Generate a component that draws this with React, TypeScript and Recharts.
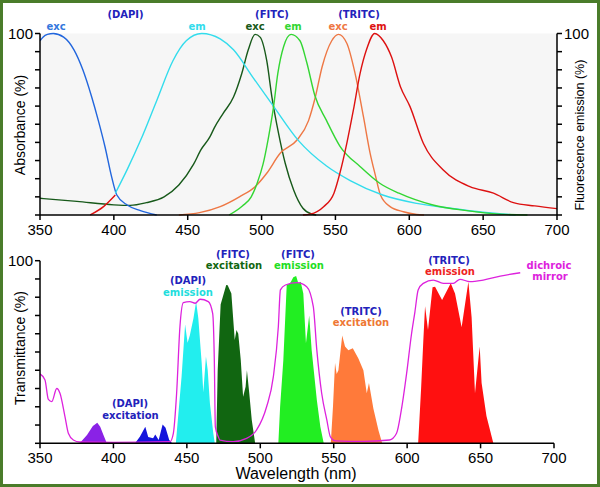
import React from 'react';
import { ComposedChart, Line, Area, XAxis, YAxis, CartesianGrid } from 'recharts';

type P = [number, number];

// ---------- top panel: absorbance / emission spectra ----------
const wavelengthTicks = [350, 400, 450, 500, 550, 600, 650, 700];
const percentTicks = [0, 10, 20, 30, 40, 50, 60, 70, 80, 90, 100];

const dapiExc: P[] = [[350, 96], [352, 98], [355, 99.5], [359, 100], [366, 98], [373, 91], [379, 80], [385, 65], [389.5, 52], [394, 37.6], [398.5, 21], [402, 11], [409, 5.5], [418, 2.4], [429, 0]];
const dapiEm: P[] = [[401, 12], [409, 25], [418, 41], [429, 63], [440, 85], [449, 96], [459.5, 100], [472, 97], [481, 91], [494, 76], [508, 60], [525, 41], [544, 27], [560, 19], [582, 11], [605, 6.4], [628, 3.7], [650, 1.5], [672, 0]];
const redFragment: P[] = [[384, 0], [393, 4.6], [401, 11]];
const fitcExc: P[] = [[350, 9.2], [375, 7.5], [400, 5.6], [411, 5.3], [422, 6.8], [434, 10], [444, 16.5], [454, 28], [459, 36], [465, 43], [468, 48], [474, 56], [481, 65], [486.6, 78], [491, 91], [495.6, 99.5], [499, 98], [503.5, 85], [507, 65], [511.5, 45], [516, 28.5], [521.7, 13.8], [528, 3.7], [534, 0.5], [537, 0]];
const fitcEm: P[] = [[478, 0], [487, 5], [493, 10], [497, 17.5], [501, 28], [504.5, 42], [508, 59], [511, 78], [515, 93], [520, 99.5], [526, 96], [530.6, 84], [536, 66], [544, 52], [553, 38], [567, 26.5], [580, 17.5], [593, 12], [616, 5.5], [639, 2.4], [661, 0.5], [680, 0]];
const tritcExc: P[] = [[444, 0], [458, 1.3], [472, 4.6], [485, 10], [495.6, 15.6], [503.5, 23], [512.6, 34], [524, 41.3], [531.8, 52], [536.4, 65], [541, 81.7], [547.5, 96], [552, 99.5], [557.7, 94.6], [563.3, 78], [569, 54], [573.5, 34], [577, 22], [580.5, 11], [587, 4.6], [596, 1.8], [605, 0.3], [610, 0]];
const tritcEm: P[] = [[528, 0], [533, 0.5], [542, 4.6], [549, 12], [553, 23], [557.7, 39.5], [562.2, 58], [566.7, 78], [571, 91], [576.6, 100], [582.4, 96], [588, 87], [594, 70.7], [600.5, 59.7], [609.5, 39.5], [623, 24.8], [641, 15.6], [657, 12], [670.5, 6.8], [685, 5], [700, 3.5]];

// ---------- bottom panel: filter transmittance ----------
const dichroicMirror: P[] = [[350, 38], [353.4, 34.7], [355.7, 24], [358, 22.8], [361.4, 30], [363.6, 27.4], [367, 14.6], [369.3, 5.5], [372.7, 1.8], [377, 0.7], [400, 0.5], [438.5, 0.9], [440.8, 5.5], [443, 27], [445.3, 64], [447.6, 77], [452, 77.6], [455.7, 76.7], [459, 78.9], [464.6, 77.6], [467.6, 71], [468.7, 45.6], [469.4, 9], [471.4, 3.6], [472.5, 1.8], [481.6, 0.9], [490.7, 2.7], [497.5, 7.3], [504.3, 20], [508.9, 36.5], [512.3, 64], [513.7, 84], [517.1, 86.7], [525, 88], [531.6, 85.8], [536.1, 74.8], [538.5, 51], [541.8, 27.4], [545.3, 12.8], [547.7, 3.6], [551, 1.3], [570, 1], [588, 1.8], [592.8, 5.5], [596, 18], [599.6, 38], [603, 60], [605.3, 72], [607.5, 84], [611, 87.6], [617.8, 89.4], [624.6, 87.6], [631.4, 87.6], [636, 89.8], [642.7, 88.5], [651.8, 89.4], [663.4, 91.6], [677, 93.4]];
const dapiExcUv: P[] = [[377, 0], [382, 4.5], [386, 9.5], [389, 11.3], [391, 9], [393, 5], [395.5, 0]];
const dapiExcBlue: P[] = [[414.7, 0], [418, 3.6], [421.7, 9], [423.7, 3.5], [427, 2.7], [428.5, 4.8], [430.8, 1.8], [433.5, 10.3], [435.5, 8.5], [438, 1.8], [440, 0]];
const dapiEmBand: P[] = [[442.5, 0], [446.4, 36.5], [448.8, 65], [450.5, 55], [452, 59], [454.5, 68.5], [456.3, 77.6], [457.8, 68.5], [460.1, 44], [461.2, 28], [463, 47.5], [464.2, 40], [465.7, 22], [468, 5.5], [469, 0]];
const fitcExcBand: P[] = [[470, 0], [471, 40], [473, 76], [476.8, 86.7], [477.8, 86.5], [480.3, 82], [482.6, 56.6], [483.8, 62], [485, 60], [486.7, 45.6], [488.3, 25.5], [490, 31], [490.9, 40], [492.5, 27.4], [494.2, 12.8], [496.5, 0]];
const fitcEmBand: P[] = [[512.3, 0], [513.5, 20], [515.7, 45.6], [518, 86.7], [520.3, 87.6], [522.5, 91], [524.4, 91.6], [525.9, 87.6], [527.5, 88.5], [529.3, 82], [531.1, 54.8], [533.3, 70], [535, 51], [538.5, 23.7], [540.9, 9], [543.2, 0]];
const tritcExcBand: P[] = [[548, 0], [549.5, 20], [550.9, 44], [552, 38], [553.2, 40], [555.8, 59], [557.7, 53], [560, 51], [563, 52], [566.8, 46.5], [570.2, 40], [572.5, 27.4], [574, 33], [577, 19], [580.5, 7], [583, 0]];
const tritcEmBand: P[] = [[607.5, 0], [609.5, 30], [611, 56], [612.2, 75], [614.2, 62], [617.3, 85.4], [619, 85.8], [623.8, 78.5], [629.7, 87.6], [632.6, 82], [637.1, 63.5], [641.7, 88.5], [643.9, 69], [646.2, 27.4], [649.4, 53], [650.7, 33], [654, 15], [658.7, 0]];

const toRows = (pts: P[]) => pts.map(([x, y]) => ({ x, y }));

const AXIS_FONT = '"Liberation Sans", Arial, Helvetica, sans-serif';
const LABEL_FONT = '"DejaVu Sans", Verdana, sans-serif';
const tickStyle = { fontSize: 15, fill: '#000', fontFamily: AXIS_FONT };
const axisLine = { stroke: '#000', strokeWidth: 1.5 };
const only100 = (v: number) => (v === 100 ? '100' : '');

const TopChart = () => (
  <ComposedChart width={600} height={245} margin={{ top: 33.5, right: 0, bottom: 0, left: 0 }}>
    <CartesianGrid fill="#f6f6f6" horizontal={false} vertical={false} yAxisId="l" />
    <XAxis dataKey="x" type="number" domain={[350, 700]} ticks={wavelengthTicks} interval={0} allowDataOverflow
      height={30} tickSize={5} tickMargin={4} tick={tickStyle} axisLine={axisLine} tickLine={axisLine} />
    <YAxis yAxisId="l" type="number" domain={[0, 100]} ticks={percentTicks} interval={0} width={40}
      tickSize={5} tickMargin={2} tick={tickStyle} tickFormatter={only100} axisLine={axisLine} tickLine={axisLine} />
    <YAxis yAxisId="r" orientation="right" type="number" domain={[0, 100]} ticks={percentTicks} interval={0} width={43}
      tickSize={5} tickMargin={2} tick={tickStyle} tickFormatter={only100} axisLine={axisLine} tickLine={axisLine} />
    <Line yAxisId="l" data={toRows(fitcExc)} dataKey="y" type="monotone" stroke="#17591a" strokeWidth={1.4} dot={false} isAnimationActive={false} />
    <Line yAxisId="l" data={toRows(tritcExc)} dataKey="y" type="monotone" stroke="#ee7744" strokeWidth={1.4} dot={false} isAnimationActive={false} />
    <Line yAxisId="r" data={toRows(redFragment)} dataKey="y" type="monotone" stroke="#dd1111" strokeWidth={1.4} dot={false} isAnimationActive={false} />
    <Line yAxisId="l" data={toRows(dapiExc)} dataKey="y" type="monotone" stroke="#2266dd" strokeWidth={1.4} dot={false} isAnimationActive={false} />
    <Line yAxisId="r" data={toRows(dapiEm)} dataKey="y" type="monotone" stroke="#33dcec" strokeWidth={1.4} dot={false} isAnimationActive={false} />
    <Line yAxisId="r" data={toRows(fitcEm)} dataKey="y" type="monotone" stroke="#33d633" strokeWidth={1.4} dot={false} isAnimationActive={false} />
    <Line yAxisId="r" data={toRows(tritcEm)} dataKey="y" type="monotone" stroke="#dd1111" strokeWidth={1.4} dot={false} isAnimationActive={false} />
  </ComposedChart>
);

const bandArea = (pts: P[], color: string, key: string) => (
  <Area key={key} data={toRows(pts)} dataKey="y" type="linear" stroke="none" fill={color} fillOpacity={1} isAnimationActive={false} />
);

const BottomChart = () => (
  <ComposedChart width={600} height={242} margin={{ top: 15.7, right: 46, bottom: 0, left: 0 }}>
    <XAxis dataKey="x" type="number" domain={[350, 700]} ticks={wavelengthTicks} interval={0} allowDataOverflow
      height={43.7} tickSize={5} tickMargin={4} tick={tickStyle} axisLine={axisLine} tickLine={axisLine} />
    <YAxis type="number" domain={[0, 100]} ticks={percentTicks} interval={0} width={40}
      tickSize={5} tickMargin={2} tick={tickStyle} tickFormatter={only100} axisLine={axisLine} tickLine={axisLine} />
    {bandArea(dapiExcUv, '#8a22e6', 'uv')}
    {bandArea(dapiExcBlue, '#1414dc', 'blue')}
    {bandArea(dapiEmBand, '#22eeee', 'cyan')}
    {bandArea(fitcExcBand, '#116611', 'dg')}
    {bandArea(fitcEmBand, '#22ee22', 'lg')}
    {bandArea(tritcExcBand, '#ff7a3a', 'or')}
    {bandArea(tritcEmBand, '#ff1010', 'rd')}
    <Line data={toRows(dichroicMirror)} dataKey="y" type="monotone" stroke="#dd22dd" strokeWidth={1.3} dot={false} isAnimationActive={false} />
  </ComposedChart>
);

const labels: { t: string; x: number; y: number; c: string }[] = [
  { t: '(DAPI)', x: 125.5, y: 14.5, c: '#2222bb' },
  { t: 'exc', x: 56, y: 26.5, c: '#3377dd' },
  { t: 'em', x: 197, y: 26.5, c: '#33dcec' },
  { t: '(FITC)', x: 272, y: 14.5, c: '#2222bb' },
  { t: 'exc', x: 255, y: 26.5, c: '#17591a' },
  { t: 'em', x: 293, y: 26.5, c: '#33d633' },
  { t: '(TRITC)', x: 359, y: 14.5, c: '#2222bb' },
  { t: 'exc', x: 338, y: 26.5, c: '#ee7744' },
  { t: 'em', x: 378, y: 26.5, c: '#dd1111' },
  { t: '(DAPI)', x: 130, y: 403, c: '#2222bb' },
  { t: 'excitation', x: 130.5, y: 415, c: '#2222bb' },
  { t: '(DAPI)', x: 188, y: 280, c: '#2222bb' },
  { t: 'emission', x: 188, y: 292, c: '#22dddd' },
  { t: '(FITC)', x: 233, y: 254, c: '#2222bb' },
  { t: 'excitation', x: 234, y: 265, c: '#116611' },
  { t: '(FITC)', x: 298, y: 254, c: '#2222bb' },
  { t: 'emission', x: 299, y: 265, c: '#22dd22' },
  { t: '(TRITC)', x: 361, y: 311, c: '#2222bb' },
  { t: 'excitation', x: 361, y: 322, c: '#ee7733' },
  { t: '(TRITC)', x: 449, y: 260, c: '#2222bb' },
  { t: 'emission', x: 450, y: 271, c: '#ee2222' },
  { t: 'dichroic', x: 549, y: 265, c: '#dd22dd' },
  { t: 'mirror', x: 550, y: 276, c: '#dd22dd' },
];

export default function App() {
  return (
    <div style={{ position: 'absolute', left: 0, top: 0, width: 600, height: 487, background: '#fff', overflow: 'hidden' }}>
      <div style={{ position: 'absolute', left: 0, top: 0 }}><TopChart /></div>
      <div style={{ position: 'absolute', left: 0, top: 245 }}><BottomChart /></div>
      <svg width={600} height={487} style={{ position: 'absolute', left: 0, top: 0, pointerEvents: 'none' }}>
        {labels.map((l, i) => (
          <text key={i} x={l.x} y={l.y} fill={l.c} fontFamily={LABEL_FONT} fontWeight="bold" fontSize={10}
            textAnchor="middle" dominantBaseline="central">{l.t}</text>
        ))}
        <text x={19.5} y={125} transform="rotate(-90 19.5 125)" fontFamily={AXIS_FONT} fontSize={14} fill="#000"
          textAnchor="middle" dominantBaseline="central">Absorbance (%)</text>
        <text x={580} y={135} transform="rotate(-90 580 135)" fontFamily={AXIS_FONT} fontSize={12.5} fill="#000"
          textAnchor="middle" dominantBaseline="central">Fluorescence emission (%)</text>
        <text x={19.5} y={348} transform="rotate(-90 19.5 348)" fontFamily={AXIS_FONT} fontSize={14} fill="#000"
          textAnchor="middle" dominantBaseline="central">Transmittance (%)</text>
        <text x={296} y={473} fontFamily={AXIS_FONT} fontSize={16} fill="#000"
          textAnchor="middle" dominantBaseline="central">Wavelength (nm)</text>
      </svg>
      <div style={{ position: 'absolute', left: 0, top: 0, width: 600, height: 487, boxSizing: 'border-box', border: '3px solid #4a7c2a', pointerEvents: 'none' }} />
    </div>
  );
}
